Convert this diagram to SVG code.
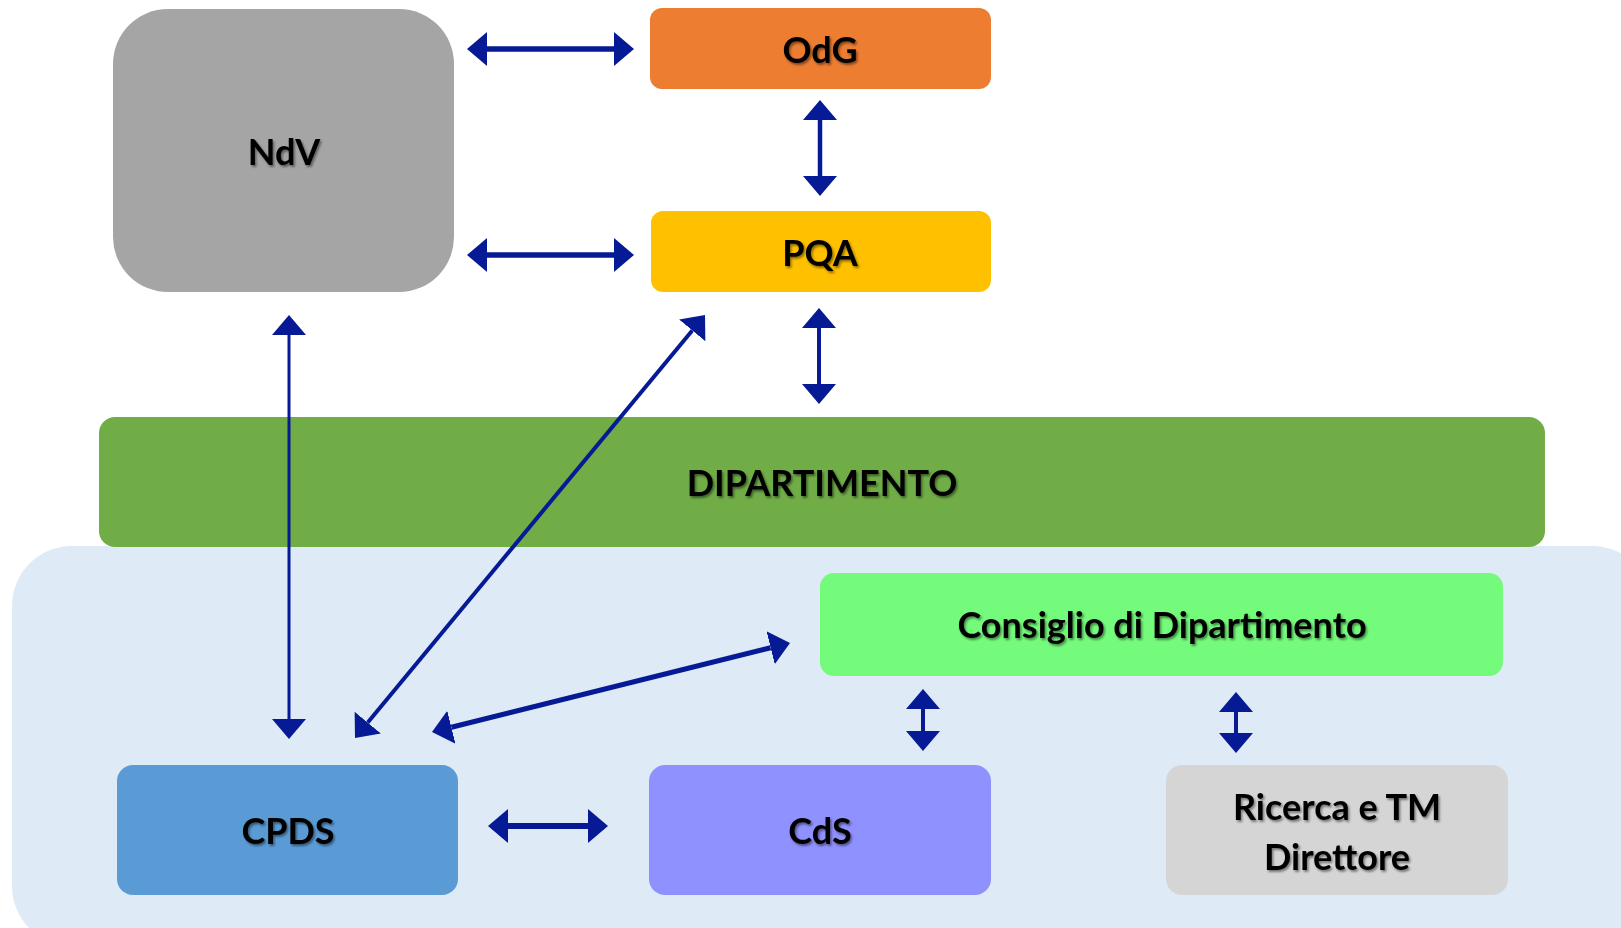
<svg xmlns="http://www.w3.org/2000/svg" width="1621" height="928" viewBox="0 0 1621 928">
<style>
.t{font-family:Lato,"Liberation Sans",sans-serif;font-weight:bold;font-size:36px;fill:#000;text-anchor:middle;dominant-baseline:central;filter:url(#sh)}
.c{fill:none;stroke:#061A96}
</style>
<defs>
<filter id="sh" x="-10%" y="-20%" width="130%" height="150%">
<feDropShadow dx="1.5" dy="2" stdDeviation="1" flood-color="#000" flood-opacity="0.45"/>
</filter>
<marker id="ah" viewBox="0 0 20 34" markerWidth="20" markerHeight="34" refX="0" refY="17" orient="auto-start-reverse" markerUnits="userSpaceOnUse">
<path d="M0,0 L20,17 L0,34 z" fill="#061A96"/>
</marker>
</defs>
<rect width="1621" height="928" fill="#fff"/>
<g id="container"><rect x="12" y="546" width="1640" height="400" rx="60" fill="#DEEAF6"/></g>
<g id="NdV"><rect x="113" y="9" width="341" height="283" rx="55" fill="#A5A5A5"/><text class="t" x="284" y="151">NdV</text></g>
<g id="OdG"><rect x="650" y="8" width="341" height="81" rx="12" fill="#ED7D31"/><text class="t" x="820" y="49">OdG</text></g>
<g id="PQA"><rect x="651" y="211" width="340" height="81" rx="12" fill="#FFC000"/><text class="t" x="820" y="252">PQA</text></g>
<g id="DIPARTIMENTO"><rect x="99" y="417" width="1446" height="130" rx="16" fill="#70AD47"/><text class="t" x="822" y="482">DIPARTIMENTO</text></g>
<g id="Consiglio"><rect x="820" y="573" width="683" height="103" rx="14" fill="#75FB7B"/><text class="t" x="1162" y="624">Consiglio di Dipartimento</text></g>
<g id="CPDS"><rect x="117" y="765" width="341" height="130" rx="16" fill="#5B9BD5"/><text class="t" x="288" y="830">CPDS</text></g>
<g id="CdS"><rect x="649" y="765" width="342" height="130" rx="16" fill="#8F91FF"/><text class="t" x="820" y="830">CdS</text></g>
<g id="Ricerca"><rect x="1166" y="765" width="342" height="130" rx="16" fill="#D5D5D5"/><text class="t" x="1337" y="806">Ricerca e TM</text><text class="t" x="1337" y="856">Direttore</text></g>
<g id="connectors">
<line class="c" x1="487" y1="49" x2="614" y2="49" stroke-width="5.5" marker-start="url(#ah)" marker-end="url(#ah)"/>
<line class="c" x1="487" y1="255" x2="614" y2="255" stroke-width="5.5" marker-start="url(#ah)" marker-end="url(#ah)"/>
<line class="c" x1="820" y1="120" x2="820" y2="176" stroke-width="4.5" marker-start="url(#ah)" marker-end="url(#ah)"/>
<line class="c" x1="819" y1="328" x2="819" y2="384" stroke-width="4" marker-start="url(#ah)" marker-end="url(#ah)"/>
<line class="c" x1="289" y1="335" x2="289" y2="719" stroke-width="3" marker-start="url(#ah)" marker-end="url(#ah)"/>
<line class="c" x1="692.25" y1="330.4" x2="367.75" y2="722.6" stroke-width="4" marker-start="url(#ah)" marker-end="url(#ah)"/>
<line class="c" x1="451.4" y1="727.2" x2="770.6" y2="647.8" stroke-width="5" marker-start="url(#ah)" marker-end="url(#ah)"/>
<line class="c" x1="923" y1="709" x2="923" y2="731" stroke-width="4" marker-start="url(#ah)" marker-end="url(#ah)"/>
<line class="c" x1="1236" y1="712" x2="1236" y2="733" stroke-width="4" marker-start="url(#ah)" marker-end="url(#ah)"/>
<line class="c" x1="508" y1="826" x2="588" y2="826" stroke-width="6" marker-start="url(#ah)" marker-end="url(#ah)"/>
</g>
</svg>
